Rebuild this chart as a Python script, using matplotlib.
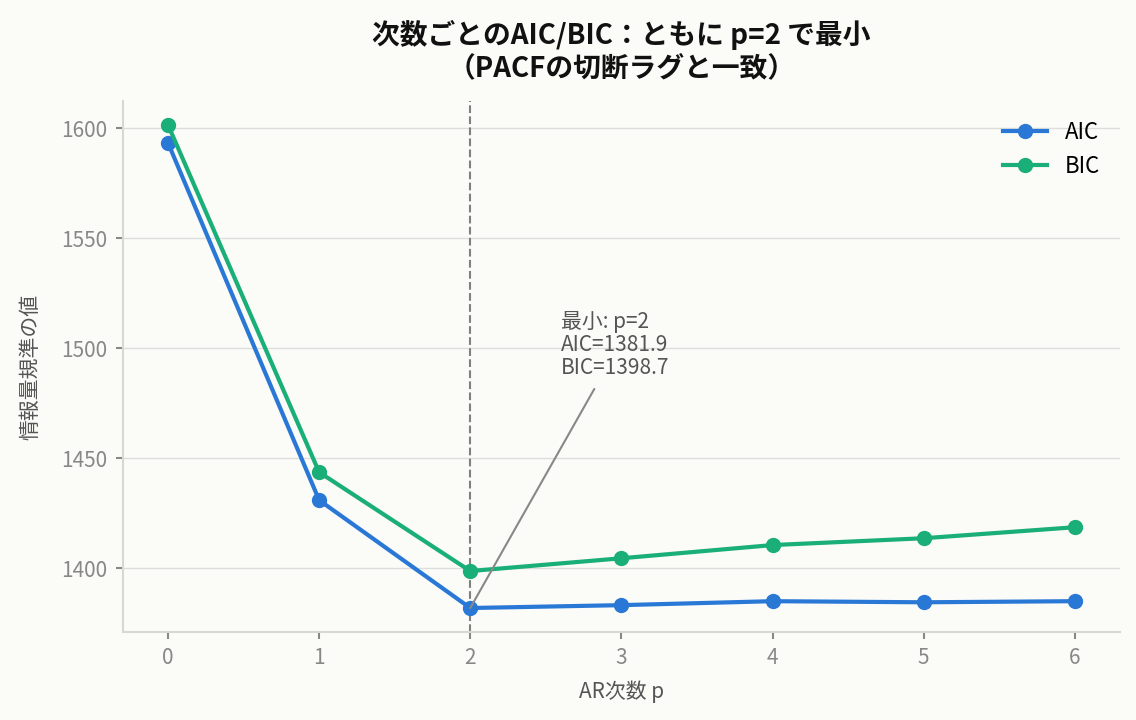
import numpy as np
import matplotlib.pyplot as plt

plt.rcParams['font.family'] = ['Noto Sans CJK JP', 'DejaVu Sans']

# AR order and information criteria
p = np.array([0, 1, 2, 3, 4, 5, 6])
aic = np.array([1593.2, 1430.9, 1381.9, 1383.2, 1385.0, 1384.5, 1385.0])
bic = np.array([1601.4, 1443.6, 1398.7, 1404.5, 1410.5, 1413.6, 1418.6])
best_p = 2

bg = '#fbfbf8'
fig, ax = plt.subplots(figsize=(11.36, 7.2), dpi=100, facecolor=bg)
ax.set_facecolor(bg)

ax.plot(p, aic, '-o', color='#2a78d6', lw=3, ms=10, label='AIC', zorder=3)
ax.plot(p, bic, '-o', color='#1aae78', lw=3, ms=10, label='BIC', zorder=3)
ax.axvline(best_p, color='#808080', ls='--', lw=1.5, zorder=2)

ax.annotate(f'最小: p={best_p}\nAIC={aic[best_p]:.1f}\nBIC={bic[best_p]:.1f}',
            xy=(best_p, aic[best_p]), xytext=(2.6, 1486),
            fontsize=15, color='#555555', va='bottom', ha='left',
            linespacing=1.05,
            arrowprops=dict(arrowstyle='-', color='#888888', lw=1.5,
                            shrinkA=6, shrinkB=0, relpos=(0.36, 0)))

ax.grid(axis='y', color='#dddddd', lw=1)
ax.set_axisbelow(True)
for s in ['top', 'right']:
    ax.spines[s].set_visible(False)
for s in ['left', 'bottom']:
    ax.spines[s].set_color('#d8d8d0')
    ax.spines[s].set_linewidth(1.5)
ax.tick_params(colors='#888888', labelsize=15, length=5, width=1.5, pad=6)
ax.set_yticks([1400, 1450, 1500, 1550, 1600])

ax.set_xlabel('AR次数 p', fontsize=15, color='#555555', labelpad=8)
ax.set_ylabel('情報量規準の値', fontsize=15, color='#555555', labelpad=14)
ax.set_title('次数ごとのAIC/BIC：ともに p=2 で最小\n（PACFの切断ラグと一致）',
             fontsize=20, fontweight='bold', color='#111111', pad=18,
             linespacing=1.15)

leg = ax.legend(fontsize=16, frameon=False, loc='upper right')

plt.subplots_adjust(left=0.108, right=0.986, top=0.86, bottom=0.122)
plt.savefig('out.png', facecolor=bg)
